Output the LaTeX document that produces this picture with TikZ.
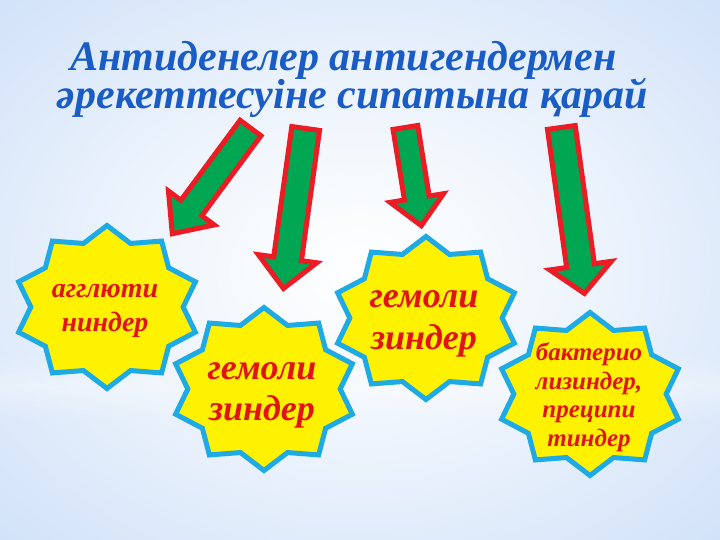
\documentclass[tikz,border=0pt]{standalone}
\usepackage{fontspec}
\setmainfont{Liberation Serif}
\usetikzlibrary{shapes.geometric}
\definecolor{bgblue}{RGB}{150,188,238}
\definecolor{bgmid}{RGB}{206,224,248}
\definecolor{starblue}{RGB}{30,170,228}
\definecolor{arrowgreen}{RGB}{0,166,81}
\definecolor{arrowred}{RGB}{236,28,36}
\definecolor{titleblue}{RGB}{26,92,198}
\definecolor{textred}{RGB}{225,20,20}
\pgfdeclareradialshading{bgshade}{\pgfpoint{0bp}{0bp}}{color(0bp)=(white); color(14bp)=(white!70!bgmid); color(38bp)=(bgmid); color(60bp)=(bgblue); color(72bp)=(bgblue!90!blue)}
\tikzset{
  starnode/.style={star, star points=10, star point ratio=1.22, minimum size=163pt,
    inner sep=0pt, draw=starblue, line width=5pt, fill=yellow, line join=miter},
  startext/.style={text=textred, align=center, inner sep=0pt},
  blockarrow/.style={fill=arrowgreen, draw=arrowred, line width=5pt, line join=miter, miter limit=10},
  titletext/.style={anchor=base, inner sep=0pt, text=titleblue,
    font=\fontsize{42}{40}\selectfont\bfseries\itshape}
}
\newcommand\blockarr[7]{%
  \begin{scope}[shift={(#1,#2)}, rotate=#3]
    \draw[blockarrow] (2.5,-#5) -- (#4-#7,-#5) -- (#4-#7,-#6) -- (#4,0)
      -- (#4-#7,#6) -- (#4-#7,#5) -- (2.5,#5) -- cycle;
  \end{scope}}
\begin{document}
\begin{tikzpicture}[x=1pt, y=-1pt]
  \useasboundingbox (0,0) rectangle (720,540);
  \shade[shading=bgshade] (0,0) rectangle (720,540);
  \foreach \i in {0,...,34} {
    \pgfmathsetmacro\op{0.35*(1-abs(\i-17)/17)}
    \fill[white, opacity=\op] (0,352+2*\i) rectangle (720,354+2*\i);
  }
  % title
  \node[titletext] (title1) at (343.5,71) {Антиденелер антигендермен};
  \node[titletext] (title2) at (352.5,109) {әрекеттесуіне сипатына қарай};
  % stars
  \begin{scope}[shift={(107,307)}, xscale=1.14]
    \node[starnode, transform shape] (s1) at (0,0) {};
  \end{scope}
  \node[startext, font=\fontsize{28}{34}\selectfont\bfseries\itshape] (t1) at (105,311) {агглюти\\ниндер};
  \begin{scope}[shift={(264,389)}, xscale=1.14]
    \node[starnode, transform shape] (s2) at (0,0) {};
  \end{scope}
  \node[startext, font=\fontsize{36}{41}\selectfont\bfseries\itshape] (t2) at (262,395) {гемоли\\зиндер};
  \begin{scope}[shift={(426,318)}, xscale=1.14]
    \node[starnode, transform shape] (s3) at (0,0) {};
  \end{scope}
  \node[startext, font=\fontsize{36}{42}\selectfont\bfseries\itshape] (t3) at (424,324) {гемоли\\зиндер};
  \begin{scope}[shift={(590,394)}, xscale=1.14]
    \node[starnode, transform shape] (s4) at (0,0) {};
  \end{scope}
  \node[startext, font=\fontsize{25}{28.5}\selectfont\bfseries\itshape] (t4) at (589,397) {бактерио\\лизиндер,\\преципи\\тиндер};
  % arrows
  \blockarr{252}{126}{-126.5}{134}{13}{28.5}{32}
  \blockarr{306}{126}{-97.9}{164}{14}{29.5}{30}
  \blockarr{405}{125}{-80.8}{102}{12.5}{27}{28}
  \blockarr{561}{125}{-82.1}{170}{14}{31}{28}
\end{tikzpicture}
\end{document}
